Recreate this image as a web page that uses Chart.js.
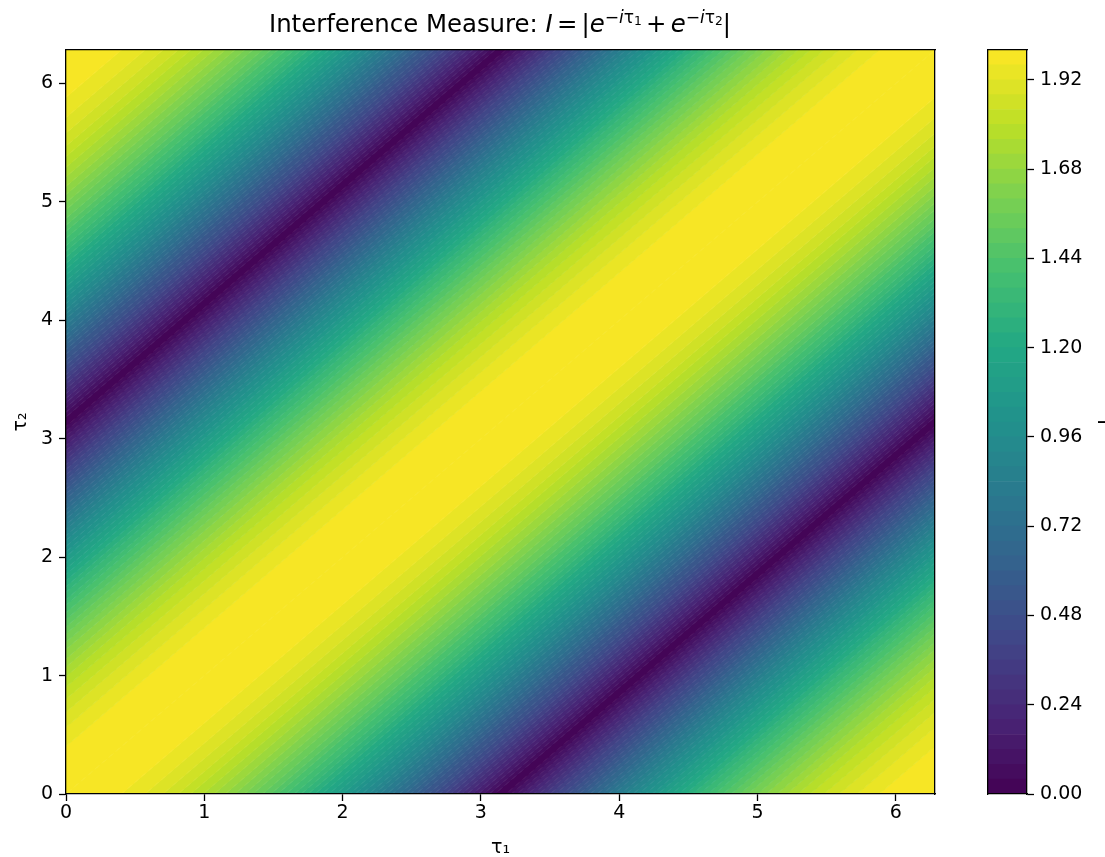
<!DOCTYPE html>
<html>
<head>
<meta charset="utf-8">
<script src="https://cdn.jsdelivr.net/npm/chart.js@4.4.0/dist/chart.umd.min.js"></script>
<style>
  html, body { margin: 0; padding: 0; background: #fff; overflow: hidden; }
  #wrap { position: relative; width: 1105px; height: 857px; }
  #title {
    position: absolute; left: 0; top: 10px; width: 1000px; text-align: center;
    font-family: "DejaVu Sans"; font-size: 24.4px; line-height: 28px; color: #000;
    white-space: nowrap;
  }
  #title sup { font-size: 0.7em; position: relative; top: -0.55em; vertical-align: baseline; line-height: 0; }
  #title sub { font-size: 0.72em; position: relative; top: 0.2em; vertical-align: baseline; line-height: 0; }
  #title .eq { margin: 0 0.17em; }
  #mainBox { position: absolute; left: 0; top: 0; width: 960px; height: 857px; }
  #barBox { position: absolute; left: 960px; top: 0; width: 158px; height: 857px; }
</style>
</head>
<body>
<div id="wrap">
  <div id="mainBox"><canvas id="mainChart"></canvas></div>
  <div id="barBox"><canvas id="barChart"></canvas></div>
  <div id="title">Interference Measure: <i>I</i><span class="eq">=</span>|<i>e</i><sup>−<i>i</i>τ<sub>1</sub></sup><span class="eq">+</span><i>e</i><sup>−<i>i</i>τ<sub>2</sub></sup>|</div>
</div>
<script>
// contour levels of I (the colour bar bands)
const contourLevels = [0.00, 0.04, 0.08, 0.12, 0.16, 0.20, 0.24, 0.28, 0.32, 0.36,
  0.40, 0.44, 0.48, 0.52, 0.56, 0.60, 0.64, 0.68, 0.72, 0.76,
  0.80, 0.84, 0.88, 0.92, 0.96, 1.00, 1.04, 1.08, 1.12, 1.16,
  1.20, 1.24, 1.28, 1.32, 1.36, 1.40, 1.44, 1.48, 1.52, 1.56,
  1.60, 1.64, 1.68, 1.72, 1.76, 1.80, 1.84, 1.88, 1.92, 1.96, 2.00];

const tau1Ticks = [0, 1, 2, 3, 4, 5, 6];
const tau2Ticks = [0, 1, 2, 3, 4, 5, 6];
const colorbarTicks = [0.00, 0.24, 0.48, 0.72, 0.96, 1.20, 1.44, 1.68, 1.92];

// tau1 where each band edge meets the bottom edge (tau2 = 0), left to right
const edgeTau1 = [0.40, 0.57, 0.70, 0.81, 0.90, 0.99, 1.07, 1.15, 1.22, 1.29,
  1.35, 1.42, 1.48, 1.53, 1.59, 1.65, 1.70, 1.75, 1.80, 1.85,
  1.90, 1.95, 2.00, 2.05, 2.09, 2.14, 2.19, 2.23, 2.27, 2.32,
  2.36, 2.41, 2.45, 2.49, 2.53, 2.57, 2.62, 2.66, 2.70, 2.74,
  2.78, 2.82, 2.86, 2.90, 2.94, 2.98, 3.02, 3.06, 3.10,
  3.18, 3.22, 3.26, 3.30, 3.34, 3.38, 3.42, 3.46, 3.50, 3.54,
  3.59, 3.63, 3.67, 3.71, 3.75, 3.79, 3.84, 3.88, 3.92, 3.96,
  4.01, 4.05, 4.10, 4.14, 4.19, 4.24, 4.28, 4.33, 4.38, 4.43,
  4.48, 4.53, 4.58, 4.64, 4.69, 4.75, 4.81, 4.87, 4.93, 5.00,
  5.06, 5.14, 5.21, 5.29, 5.38, 5.48, 5.59, 5.72, 5.88];

// lower contour level of each band between those edges, left to right
const bandLevel = [1.96, 1.92, 1.88, 1.84, 1.80, 1.76, 1.72, 1.68, 1.64, 1.60,
  1.56, 1.52, 1.48, 1.44, 1.40, 1.36, 1.32, 1.28, 1.24, 1.20,
  1.16, 1.12, 1.08, 1.04, 1.00, 0.96, 0.92, 0.88, 0.84, 0.80,
  0.76, 0.72, 0.68, 0.64, 0.60, 0.56, 0.52, 0.48, 0.44, 0.40,
  0.36, 0.32, 0.28, 0.24, 0.20, 0.16, 0.12, 0.08, 0.04, 0.00,
  0.04, 0.08, 0.12, 0.16, 0.20, 0.24, 0.28, 0.32, 0.36, 0.40,
  0.44, 0.48, 0.52, 0.56, 0.60, 0.64, 0.68, 0.72, 0.76, 0.80,
  0.84, 0.88, 0.92, 0.96, 1.00, 1.04, 1.08, 1.12, 1.16, 1.20,
  1.24, 1.28, 1.32, 1.36, 1.40, 1.44, 1.48, 1.52, 1.56, 1.60,
  1.64, 1.68, 1.72, 1.76, 1.80, 1.84, 1.88, 1.92, 1.96];

// axis range, 0 .. 2*pi
const tauMax = 6.2832;

// viridis colour map stops
const viridis = [[68, 1, 84], [72, 36, 117], [65, 68, 135], [53, 95, 141], [42, 120, 142],
  [33, 145, 140], [34, 168, 132], [68, 191, 112], [122, 209, 81], [189, 223, 38], [253, 231, 37]];

function viridisColor(t) {
  t = Math.max(0, Math.min(1, t));
  const p = t * (viridis.length - 1);
  const i = Math.min(Math.floor(p), viridis.length - 2);
  const f = p - i;
  const c = viridis[i].map((v, k) => Math.round(v + (viridis[i + 1][k] - v) * f));
  return `rgb(${c[0]}, ${c[1]}, ${c[2]})`;
}

// colour of the band that starts at a given level (matplotlib uses the band middle)
function levelColor(level) {
  const lo = contourLevels[0];
  const hi = contourLevels[contourLevels.length - 1];
  const step = contourLevels[1] - contourLevels[0];
  return viridisColor((level + step / 2 - lo) / (hi - lo));
}

Chart.defaults.font.family = "DejaVu Sans";
Chart.defaults.color = "#000";

const tickFont = { family: "DejaVu Sans", size: 19 };
// border drawn above the datasets so the fills don't hide the frame
const frameBorder = { display: true, color: "#000", width: 1.3, z: 1 };
const fixedTicks = (values) => (scale) => { scale.ticks = values.map((v) => ({ value: v })); };

// frame-only axis (top / right spines)
const spine = (position, extra) => Object.assign({
  position,
  afterFit: (s) => { if (s.isHorizontal()) s.height = 0; else s.width = 0; },
  ticks: { display: false },
  grid: { drawOnChartArea: false, drawTicks: false },
  border: frameBorder,
}, extra);

// bands are stripes of constant tau1 - tau2; each line dataset is a band edge,
// filled against the previous edge. Two periods cover the whole square.
const offsets = [];
[-tauMax, 0].forEach((shift) => {
  offsets.push(shift);
  edgeTau1.forEach((e) => offsets.push(e + shift));
});
offsets.push(tauMax);

const bandSets = offsets.map((d, i) => {
  const color = i === 0 ? "rgba(0,0,0,0)" : levelColor(bandLevel[(i - 1) % bandLevel.length]);
  return {
    data: [{ x: 0, y: -d }, { x: tauMax, y: tauMax - d }],
    fill: i === 0 ? false : "-1",
    backgroundColor: color,
    borderColor: color,
    borderWidth: i === 0 ? 0 : 1,
    pointRadius: 0,
    tension: 0,
    clip: 0,
  };
});

new Chart(document.getElementById("mainChart"), {
  type: "line",
  data: { datasets: bandSets },
  options: {
    responsive: true,
    maintainAspectRatio: false,
    animation: false,
    events: [],
    layout: { padding: { top: 50, right: 25, left: 0, bottom: 0 } },
    plugins: { legend: { display: false }, tooltip: { enabled: false } },
    scales: {
      x: {
        type: "linear", position: "bottom", min: 0, max: tauMax,
        afterBuildTicks: fixedTicks(tau1Ticks),
        afterFit: (s) => { s.height = 63; },
        ticks: { font: tickFont, color: "#000", padding: 1, maxRotation: 0, autoSkip: false },
        grid: { drawOnChartArea: false, drawTicks: true, tickLength: 7, tickColor: "#000", tickWidth: 1.3 },
        border: frameBorder,
        title: { display: true, text: "τ₁", font: tickFont, color: "#000", padding: { top: 0, bottom: -2 } },
      },
      y: {
        type: "linear", position: "left", min: 0, max: tauMax,
        afterBuildTicks: fixedTicks(tau2Ticks),
        afterFit: (s) => { s.width = 66; },
        ticks: { font: tickFont, color: "#000", padding: 6, autoSkip: false },
        grid: { drawOnChartArea: false, drawTicks: true, tickLength: 7, tickColor: "#000", tickWidth: 1.3 },
        border: frameBorder,
        title: { display: true, text: "τ₂", font: tickFont, color: "#000", padding: { top: 10, bottom: 0 } },
      },
      xTop: spine("top", { type: "linear", min: 0, max: tauMax }),
      yRight: spine("right", { type: "linear", min: 0, max: tauMax }),
    },
  },
});

// colour bar: one floating bar per contour band
const barSets = contourLevels.slice(0, -1).map((lv, k) => ({
  data: [[lv, contourLevels[k + 1]]],
  backgroundColor: levelColor(lv),
  borderWidth: 0,
  grouped: false,
  barPercentage: 1,
  categoryPercentage: 1,
}));

new Chart(document.getElementById("barChart"), {
  type: "bar",
  data: { labels: [""], datasets: barSets },
  options: {
    responsive: true,
    maintainAspectRatio: false,
    animation: false,
    events: [],
    layout: { padding: { top: 50, right: 0, left: 28, bottom: 0 } },
    plugins: { legend: { display: false }, tooltip: { enabled: false } },
    scales: {
      x: spine("bottom", { afterFit: (s) => { s.height = 63; } }),
      xTop: spine("top", { type: "category", labels: [""] }),
      yLeft: spine("left", { type: "linear", min: 0, max: 2 }),
      y: {
        type: "linear", position: "right", min: 0, max: 2,
        afterBuildTicks: fixedTicks(colorbarTicks),
        afterFit: (s) => { s.width = 91; },
        ticks: { font: tickFont, color: "#000", padding: 6, autoSkip: false, callback: (v) => v.toFixed(2) },
        grid: { drawOnChartArea: false, drawTicks: true, tickLength: 7, tickColor: "#000", tickWidth: 1.3 },
        border: frameBorder,
        title: { display: true, text: "I", font: tickFont, color: "#000", padding: { top: 4, bottom: 4 } },
      },
    },
  },
});
</script>
</body>
</html>
